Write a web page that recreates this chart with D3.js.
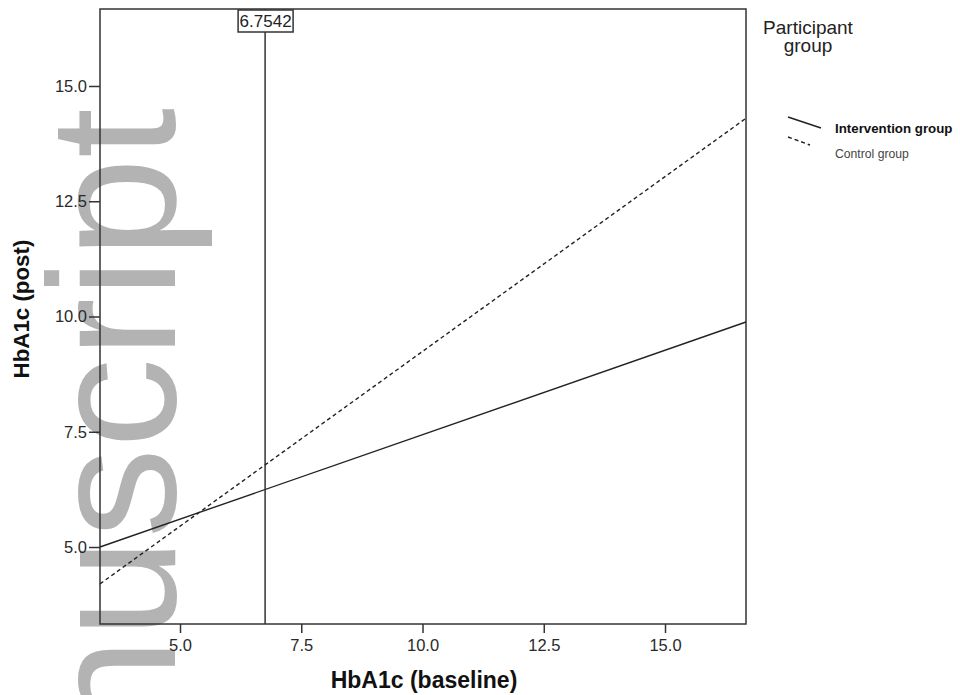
<!DOCTYPE html>
<html>
<head>
<meta charset="utf-8">
<script src="https://cdn.jsdelivr.net/npm/d3@7"></script>
<style>
  body { margin: 0; background: #fff; }
  svg { display: block; font-family: "Liberation Sans", Arial, sans-serif; }
  .tick-label { font-size: 16.5px; fill: #2a2a2a; }
  .axis-title { font-weight: bold; fill: #111; }
</style>
</head>
<body>
<div id="chart"></div>
<script>
// DATA
const xTicks = [5.0, 7.5, 10.0, 12.5, 15.0];
const yTicks = [5.0, 7.5, 10.0, 12.5, 15.0];
const xDomain = [3.35, 16.67];
const yDomain = [3.33, 16.67];
const groups = ["Intervention group", "Control group"];
const baselineEnds = [3.35, 16.67];      // fit line ends (HbA1c baseline)
const interventionPost = [5.0, 9.88];    // fit line values (HbA1c post)
const controlPost = [4.2, 14.3];
const refValue = 6.7542;

const width = 960, height = 695;
const plot = { left: 100, right: 746, top: 9, bottom: 624 };

const svg = d3.select("#chart").append("svg")
    .attr("width", width)
    .attr("height", height);

// watermark, drawn first so everything sits over it
svg.append("text")
    .attr("transform", "translate(175,108) rotate(-90)")
    .attr("text-anchor", "end")
    .style("font-size", "180px")
    .style("fill", "#b3b3b3")
    .text("nuscript");

const x = d3.scaleLinear().domain(xDomain).range([plot.left, plot.right]);
const y = d3.scaleLinear().domain(yDomain).range([plot.bottom, plot.top]);

// FRAME
svg.append("rect")
    .attr("x", plot.left)
    .attr("y", plot.top)
    .attr("width", plot.right - plot.left)
    .attr("height", plot.bottom - plot.top)
    .attr("fill", "none")
    .attr("stroke", "#333")
    .attr("stroke-width", 1.5);

// AXES
const xAxis = d3.axisBottom(x).tickValues(xTicks).tickSize(9).tickPadding(6)
    .tickFormat(d3.format(".1f"));
const yAxis = d3.axisLeft(y).tickValues(yTicks).tickSize(11).tickPadding(2)
    .tickFormat(d3.format(".1f"));

const gx = svg.append("g")
    .attr("transform", `translate(0,${plot.bottom})`)
    .call(xAxis);
const gy = svg.append("g")
    .attr("transform", `translate(${plot.left},0)`)
    .call(yAxis);

[gx, gy].forEach(g => {
    g.select(".domain").remove();
    g.selectAll(".tick line").attr("stroke", "#333").attr("stroke-width", 1.5);
    g.selectAll(".tick text").attr("class", "tick-label").attr("font-size", null).attr("font-family", null);
});

svg.append("text")
    .attr("class", "axis-title")
    .attr("x", 424)
    .attr("y", 688)
    .attr("text-anchor", "middle")
    .style("font-size", "23px")
    .text("HbA1c (baseline)");

svg.append("text")
    .attr("class", "axis-title")
    .attr("transform", "translate(29,309) rotate(-90)")
    .attr("text-anchor", "middle")
    .style("font-size", "22.3px")
    .text("HbA1c (post)");

// FIT LINES
const line = d3.line()
    .x(d => x(d[0]))
    .y(d => y(d[1]));

const series = [
    { name: groups[0], values: d3.zip(baselineEnds, interventionPost), dash: null },
    { name: groups[1], values: d3.zip(baselineEnds, controlPost), dash: "4,3" }
];

svg.selectAll(".fit")
    .data(series)
    .enter().append("path")
    .attr("class", "fit")
    .attr("d", d => line(d.values))
    .attr("fill", "none")
    .attr("stroke", "#222")
    .attr("stroke-width", 1.4)
    .attr("stroke-dasharray", d => d.dash);

// REFERENCE LINE
svg.append("line")
    .attr("x1", x(refValue))
    .attr("x2", x(refValue))
    .attr("y1", plot.top)
    .attr("y2", plot.bottom)
    .attr("stroke", "#333")
    .attr("stroke-width", 1.5);

const refLabel = svg.append("g")
    .attr("transform", `translate(${x(refValue)},0)`);
refLabel.append("rect")
    .attr("x", -27)
    .attr("y", 10)
    .attr("width", 55)
    .attr("height", 22)
    .attr("fill", "#fff")
    .attr("stroke", "#333")
    .attr("stroke-width", 1.5);
refLabel.append("text")
    .attr("x", 0.5)
    .attr("y", 27)
    .attr("text-anchor", "middle")
    .style("font-size", "17px")
    .style("fill", "#222")
    .text(d3.format(".4f")(refValue));

// LEGEND
const legend = svg.append("g");
legend.append("text")
    .attr("x", 808).attr("y", 34)
    .attr("text-anchor", "middle")
    .style("font-size", "19px").style("fill", "#222")
    .text("Participant");
legend.append("text")
    .attr("x", 808).attr("y", 52)
    .attr("text-anchor", "middle")
    .style("font-size", "19px").style("fill", "#222")
    .text("group");

const legendItems = [
    { name: groups[0], y: 133, x1: 788, y1: 117, x2: 821, y2: 128, dash: null, size: "13.3px", weight: "bold", color: "#111" },
    { name: groups[1], y: 158, x1: 788, y1: 137, x2: 810, y2: 145, dash: "4,3", size: "12.2px", weight: "normal", color: "#444" }
];

const li = legend.selectAll(".legend")
    .data(legendItems)
    .enter().append("g")
    .attr("class", "legend");
li.append("line")
    .attr("x1", d => d.x1).attr("y1", d => d.y1)
    .attr("x2", d => d.x2).attr("y2", d => d.y2)
    .attr("stroke", "#222")
    .attr("stroke-width", 1.5)
    .attr("stroke-dasharray", d => d.dash);
li.append("text")
    .attr("x", 835)
    .attr("y", d => d.y)
    .style("font-size", d => d.size)
    .style("font-weight", d => d.weight)
    .style("fill", d => d.color)
    .text(d => d.name);
</script>
</body>
</html>
